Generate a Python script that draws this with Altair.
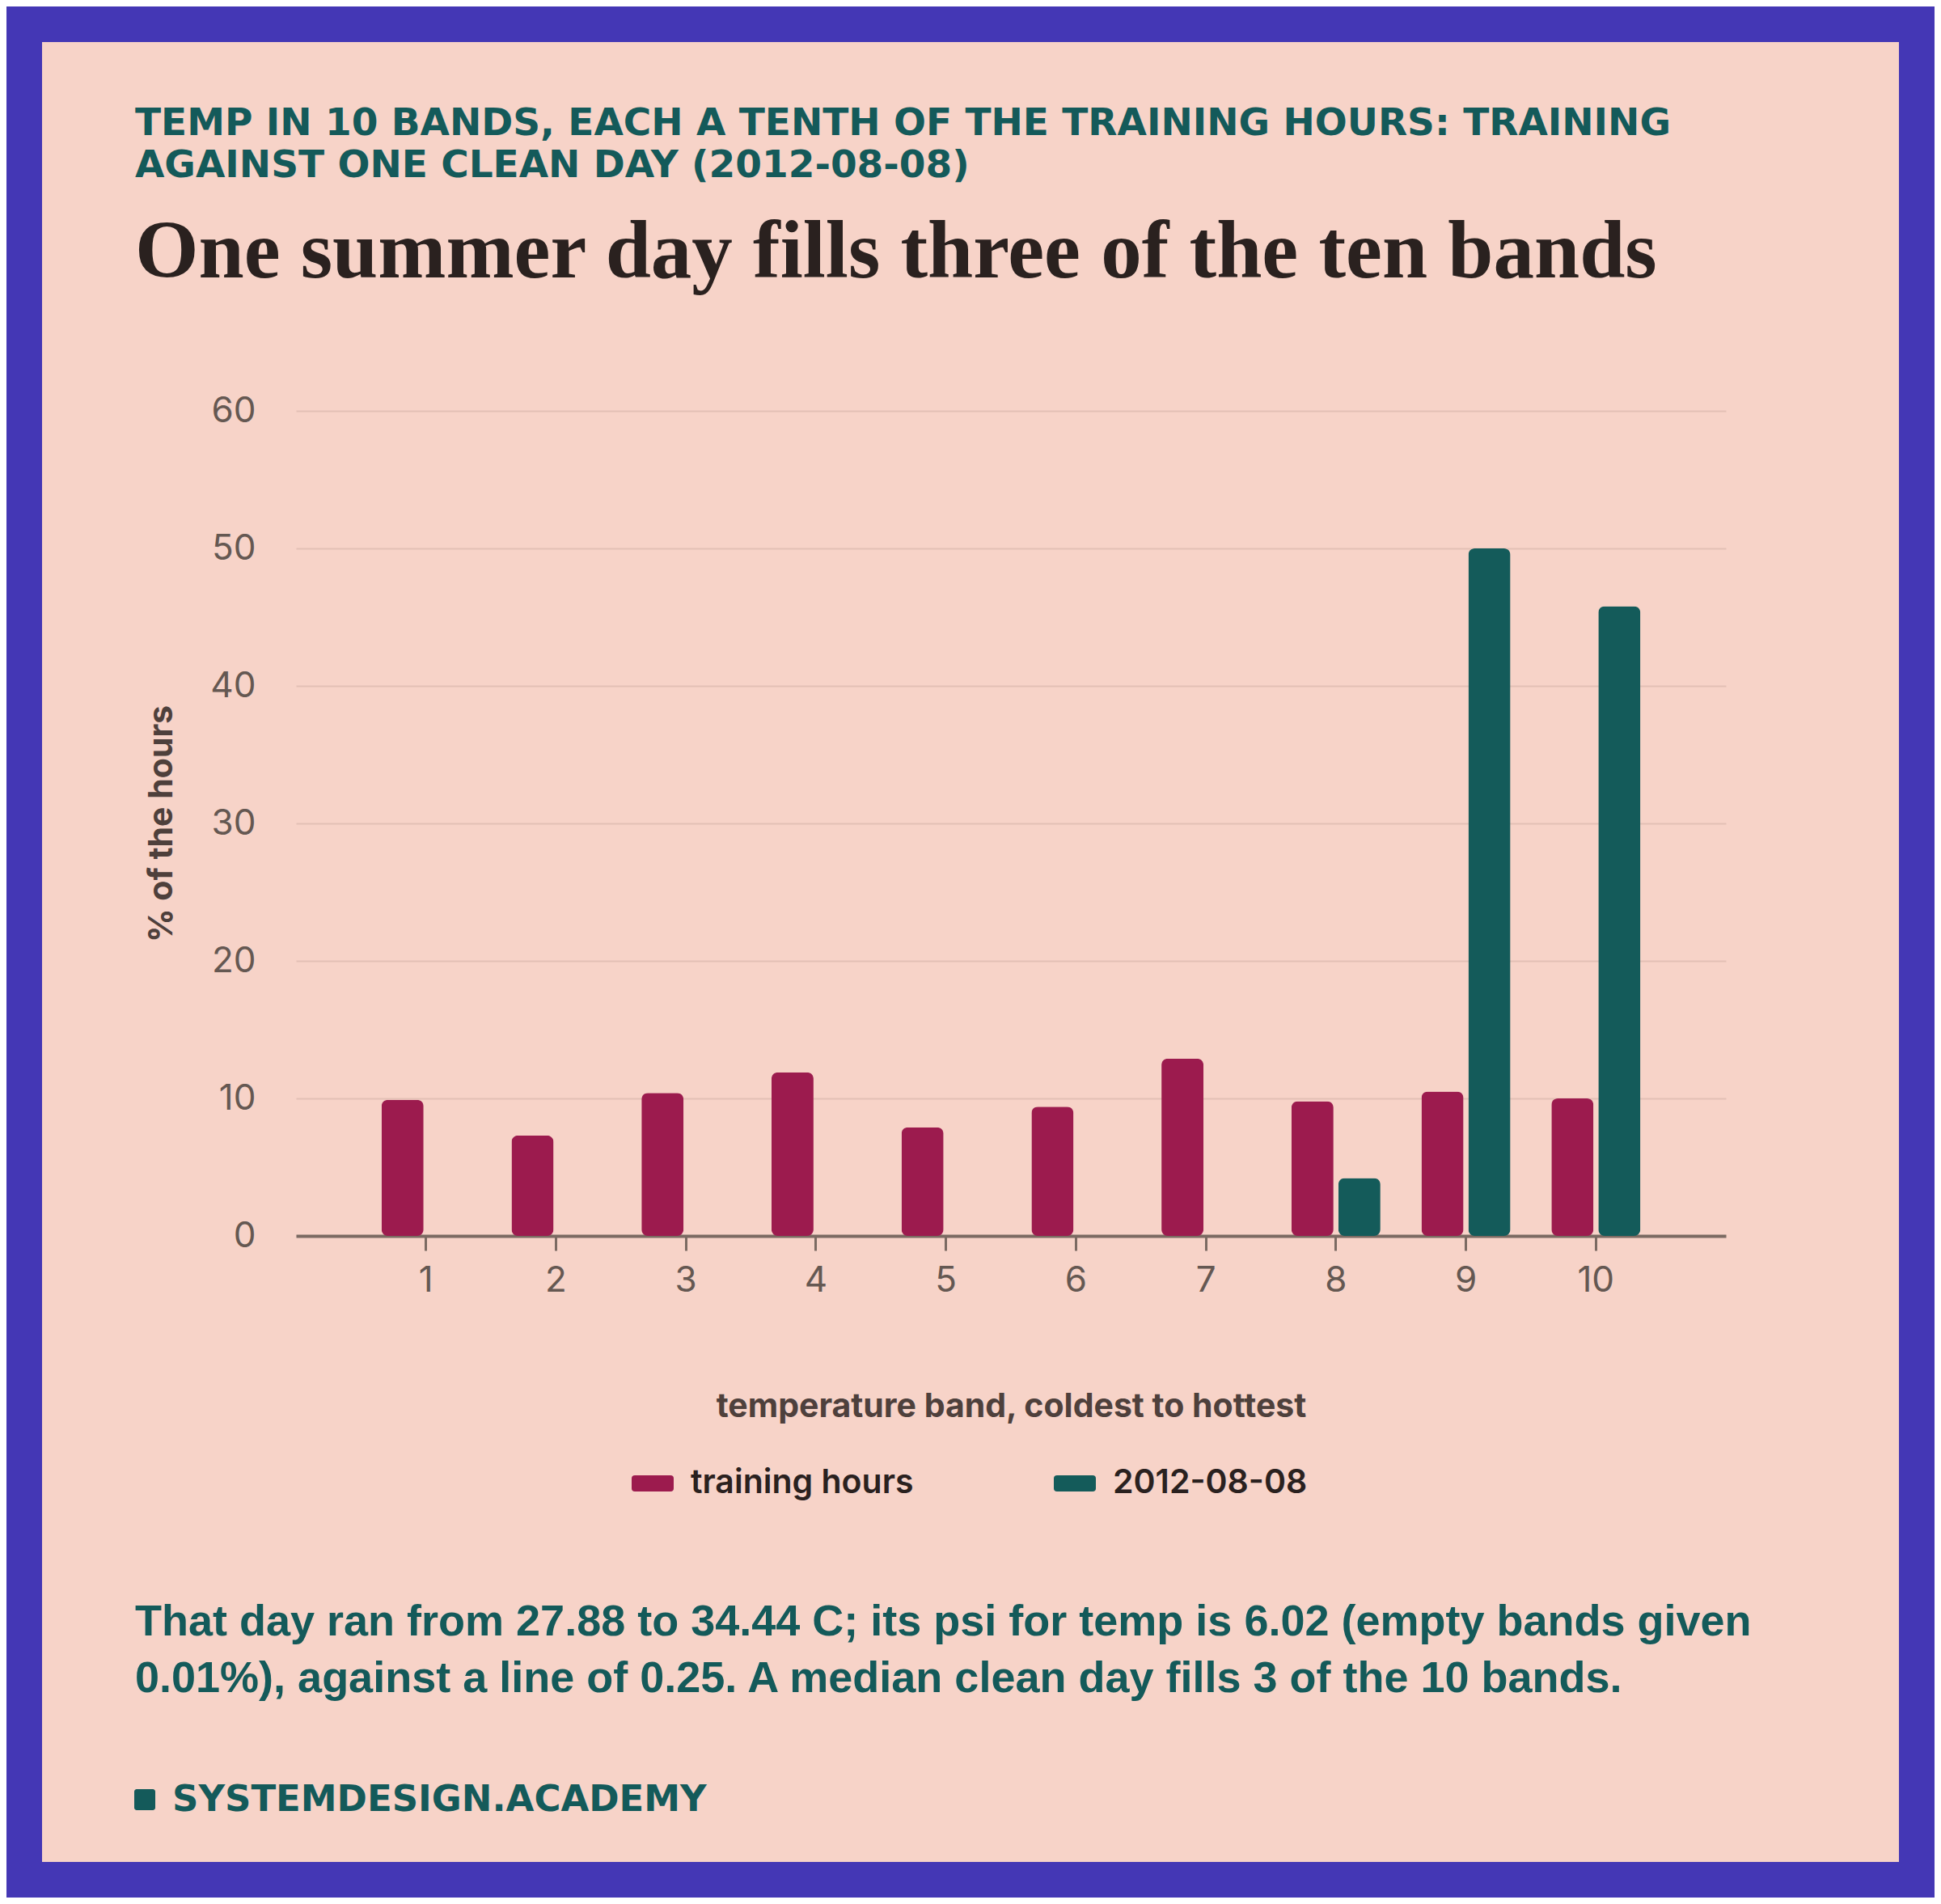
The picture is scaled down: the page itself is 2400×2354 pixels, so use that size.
import altair as alt
import pandas as pd

# --- data ------------------------------------------------------------------
bands = [1, 2, 3, 4, 5, 6, 7, 8, 9, 10]
training_pct = [9.9, 7.3, 10.4, 11.9, 7.9, 9.4, 12.9, 9.8, 10.5, 10.0]
day_pct = [0.0, 0.0, 0.0, 0.0, 0.0, 0.0, 0.0, 4.2, 50.0, 45.8]
series = ["training hours", "2012-08-08"]
series_colors = ["#9C1B4E", "#145B5A"]
y_ticks = [0, 10, 20, 30, 40, 50, 60]

kicker = [
    "TEMP IN 10 BANDS, EACH A TENTH OF THE TRAINING HOURS: TRAINING",
    "AGAINST ONE CLEAN DAY (2012-08-08)",
]
headline = "One summer day fills three of the ten bands"
footnote = [
    "That day ran from 27.88 to 34.44 C; its psi for temp is 6.02 (empty bands given",
    "0.01%), against a line of 0.25. A median clean day fills 3 of the 10 bands.",
]
brand = "SYSTEMDESIGN.ACADEMY"

# --- colours / layout --------------------------------------------------------
PINK = "#F7D3C8"
PURPLE = "#4437B5"
TEAL = "#145A5A"
INK = "#2A211F"
AXIS_INK = "#4E403C"
LABEL_INK = "#655852"
DOMAIN = "#7B6A62"
GRID = "#E3C0B5"

W, H = 1768, 1020
PAD_L, PAD_T, PAD_R, PAD_B = 358, 500, 258, 818

df = pd.DataFrame({
    "band": bands * 2,
    "series": [series[0]] * len(bands) + [series[1]] * len(bands),
    "pct": training_pct + day_pct,
})
one = pd.DataFrame({"k": [0]})

# rounded pill used as legend swatch
pill = ("M-0.846,-0.385 L0.846,-0.385 Q1,-0.385 1,-0.231 L1,0.231 "
        "Q1,0.385 0.846,0.385 L-0.846,0.385 Q-1,0.385 -1,0.231 "
        "L-1,-0.231 Q-1,-0.385 -0.846,-0.385 Z")

bars = alt.Chart(df).mark_bar(cornerRadius=8).encode(
    x=alt.X(
        "band:O",
        title="temperature band, coldest to hottest",
        scale=alt.Scale(paddingInner=0, paddingOuter=0.5),
        axis=alt.Axis(
            labelAngle=0, labelFont="Inter", labelFontSize=44, labelColor=LABEL_INK,
            labelPadding=15, tickSize=18, tickWidth=3, tickColor=DOMAIN,
            domainColor=DOMAIN, domainWidth=4, grid=False,
            titleFont="Inter", titleFontSize=41, titleFontWeight="bold",
            titleColor=AXIS_INK, titlePadding=114,
        ),
    ),
    xOffset=alt.XOffset(
        "series:N", sort=series,
        scale=alt.Scale(domain=series, paddingInner=0.1034, paddingOuter=0.437),
    ),
    y=alt.Y(
        "pct:Q",
        title="% of the hours",
        scale=alt.Scale(domain=[0, 60]),
        axis=alt.Axis(
            values=y_ticks, domain=False, ticks=False, labelPadding=50,
            labelFont="Inter", labelFontSize=44, labelColor=LABEL_INK,
            gridColor=GRID, gridWidth=2,
            titleFont="Inter", titleFontSize=41, titleFontWeight="bold",
            titleColor=AXIS_INK, titlePadding=38,
        ),
    ),
    color=alt.Color(
        "series:N", sort=series,
        scale=alt.Scale(domain=series, range=series_colors),
        legend=alt.Legend(
            title="", orient="none", legendX=415, legendY=1300,
            direction="horizontal", padding=0,
            symbolType=pill, symbolSize=2704, symbolStrokeWidth=0, symbolOpacity=1,
            labelFont="Inter", labelFontSize=41, labelFontWeight=600, labelLimit=600,
            labelColor=INK, labelOffset=21, columnPadding=173,
        ),
    ),
)

# purple frame around the pink card
frame = alt.Chart(one).mark_rect(fillOpacity=0, stroke=PURPLE, strokeWidth=88).encode(
    x=alt.value(-PAD_L), x2=alt.value(W + PAD_R),
    y=alt.value(-PAD_T), y2=alt.value(H + PAD_B),
)

kicker_text = alt.Chart(one).mark_text(
    text=kicker, align="left", baseline="alphabetic", font="DejaVu Sans",
    fontWeight="bold", fontSize=47, lineHeight=52, color=TEAL,
).encode(x=alt.value(-199), y=alt.value(-341))

headline_text = alt.Chart(one).mark_text(
    text=headline, align="left", baseline="alphabetic", font="Liberation Serif",
    fontWeight="bold", fontSize=101, color=INK,
).encode(x=alt.value(-199), y=alt.value(-165))

footnote_text = alt.Chart(one).mark_text(
    text=footnote, align="left", baseline="alphabetic", font="Liberation Sans",
    fontWeight="bold", fontSize=54, lineHeight=70, color=TEAL,
).encode(x=alt.value(-199), y=alt.value(1514))

brand_mark = alt.Chart(one).mark_rect(cornerRadius=3, color=TEAL).encode(
    x=alt.value(-200), x2=alt.value(-174), y=alt.value(1704), y2=alt.value(1730),
)

brand_text = alt.Chart(one).mark_text(
    text=brand, align="left", baseline="alphabetic", font="DejaVu Sans",
    fontWeight="bold", fontSize=45, color=TEAL,
).encode(x=alt.value(-153), y=alt.value(1731))

chart = alt.layer(
    frame, bars, kicker_text, headline_text, footnote_text, brand_mark, brand_text
).properties(
    width=W,
    height=H,
    autosize=alt.AutoSizeParams(type="none"),
    padding={"left": PAD_L, "top": PAD_T, "right": PAD_R, "bottom": PAD_B},
).configure(
    background=PINK,
).configure_view(
    strokeWidth=0,
)

chart.save("out.html", embed_options={"renderer": "svg", "actions": False})
